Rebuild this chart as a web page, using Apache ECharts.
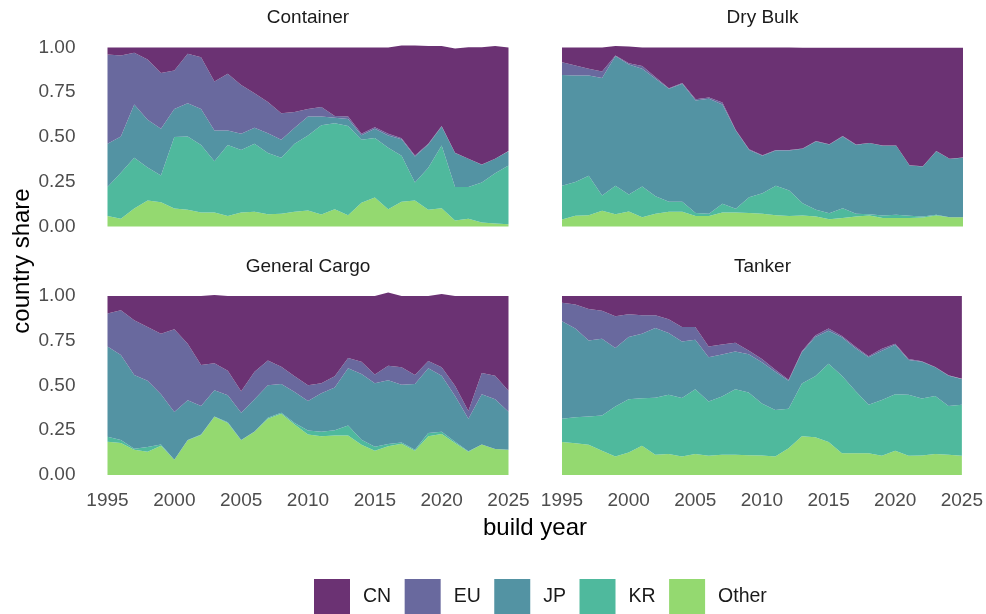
<!DOCTYPE html>
<html>
<head>
<meta charset="utf-8">
<title>country share by build year</title>
<script src="https://cdn.jsdelivr.net/npm/echarts@6/dist/echarts.min.js"></script>
<style>
  html, body { margin: 0; padding: 0; background: #ffffff; }
  #main { width: 986px; height: 614px; }
</style>
</head>
<body>
<div id="main"></div>
<script>
// build years (x axis)
const years = ['1995', '1996', '1997', '1998', '1999', '2000', '2001', '2002', '2003', '2004', '2005',
  '2006', '2007', '2008', '2009', '2010', '2011', '2012', '2013', '2014', '2015',
  '2016', '2017', '2018', '2019', '2020', '2021', '2022', '2023', '2024', '2025']

const countries = ['CN', 'EU', 'JP', 'KR', 'Other']
const yTicks = [0, 0.25, 0.5, 0.75, 1]

// Container
const containerOther = [0.058, 0.043, 0.10, 0.145, 0.136, 0.10, 0.093, 0.078, 0.078, 0.058, 0.078, 0.082, 0.069, 0.071, 0.082, 0.089, 0.067, 0.097, 0.063, 0.132, 0.162, 0.097, 0.138, 0.145, 0.093, 0.102, 0.034, 0.043, 0.022, 0.017, 0.013]
const containerKR = [0.162, 0.257, 0.284, 0.185, 0.149, 0.40, 0.41, 0.378, 0.287, 0.398, 0.35, 0.38, 0.341, 0.313, 0.38, 0.419, 0.499, 0.48, 0.499, 0.352, 0.333, 0.343, 0.257, 0.101, 0.235, 0.35, 0.186, 0.177, 0.224, 0.281, 0.328]
const containerJP = [0.242, 0.203, 0.298, 0.266, 0.261, 0.157, 0.186, 0.201, 0.171, 0.08, 0.09, 0.089, 0.111, 0.10, 0.089, 0.107, 0.049, 0.03, 0.038, 0.026, 0.051, 0.068, 0.093, 0.145, 0.13, 0.107, 0.19, 0.158, 0.099, 0.08, 0.08]
const containerEU = [0.499, 0.452, 0.288, 0.337, 0.312, 0.214, 0.276, 0.289, 0.274, 0.317, 0.273, 0.194, 0.174, 0.149, 0.088, 0.042, 0.052, 0.011, 0.015, 0.008, 0.009, 0.01, 0.005, 0.006, 0.004, 0.002, 0.002, 0.001, 0.001, 0.001, 0.001]
const containerCN = [0.039, 0.045, 0.03, 0.067, 0.142, 0.129, 0.035, 0.054, 0.19, 0.147, 0.209, 0.255, 0.305, 0.367, 0.361, 0.343, 0.333, 0.382, 0.385, 0.482, 0.445, 0.482, 0.518, 0.614, 0.547, 0.448, 0.583, 0.623, 0.656, 0.629, 0.578]

// Dry Bulk
const dryBulkOther = [0.039, 0.06, 0.063, 0.088, 0.069, 0.084, 0.052, 0.071, 0.082, 0.082, 0.058, 0.058, 0.078, 0.078, 0.076, 0.071, 0.063, 0.058, 0.061, 0.056, 0.041, 0.048, 0.056, 0.061, 0.047, 0.047, 0.047, 0.05, 0.061, 0.052, 0.052]
const dryBulkKR = [0.188, 0.188, 0.22, 0.085, 0.158, 0.095, 0.171, 0.098, 0.056, 0.056, 0.018, 0.013, 0.049, 0.021, 0.088, 0.115, 0.164, 0.143, 0.069, 0.037, 0.033, 0.054, 0.015, 0.008, 0.014, 0.018, 0.013, 0.006, 0.004, 0.0, 0.0]
const dryBulkJP = [0.62, 0.596, 0.561, 0.656, 0.725, 0.726, 0.658, 0.656, 0.631, 0.659, 0.628, 0.642, 0.555, 0.437, 0.264, 0.209, 0.198, 0.224, 0.304, 0.382, 0.384, 0.401, 0.385, 0.397, 0.39, 0.387, 0.281, 0.279, 0.356, 0.326, 0.332]
const dryBulkEU = [0.071, 0.055, 0.037, 0.037, 0.003, 0.007, 0.016, 0.009, 0.004, 0.004, 0.007, 0.008, 0.011, 0.003, 0.003, 0.003, 0.003, 0.003, 0.002, 0.002, 0.002, 0.002, 0.002, 0.001, 0.001, 0.001, 0.001, 0.001, 0.001, 0.001, 0.001]
const dryBulkCN = [0.082, 0.101, 0.119, 0.134, 0.054, 0.094, 0.103, 0.166, 0.227, 0.199, 0.289, 0.279, 0.307, 0.461, 0.569, 0.602, 0.572, 0.572, 0.563, 0.522, 0.539, 0.494, 0.541, 0.531, 0.546, 0.545, 0.656, 0.662, 0.576, 0.619, 0.613]

// General Cargo
const generalCargoOther = [0.186, 0.179, 0.141, 0.13, 0.164, 0.085, 0.194, 0.224, 0.325, 0.291, 0.194, 0.241, 0.314, 0.342, 0.282, 0.226, 0.216, 0.22, 0.22, 0.169, 0.135, 0.16, 0.175, 0.135, 0.216, 0.229, 0.179, 0.13, 0.171, 0.145, 0.141]
const generalCargoKR = [0.028, 0.016, 0.006, 0.026, 0.007, 0.0, 0.002, 0.002, 0.002, 0.004, 0.002, 0.002, 0.006, 0.006, 0.009, 0.022, 0.025, 0.03, 0.056, 0.028, 0.023, 0.013, 0.007, 0.006, 0.019, 0.012, 0.007, 0.002, 0.0, 0.0, 0.0]
const generalCargoJP = [0.504, 0.476, 0.411, 0.37, 0.28, 0.267, 0.221, 0.159, 0.147, 0.15, 0.152, 0.18, 0.182, 0.16, 0.173, 0.166, 0.216, 0.239, 0.32, 0.367, 0.355, 0.357, 0.322, 0.367, 0.361, 0.314, 0.256, 0.182, 0.28, 0.278, 0.212]
const generalCargoEU = [0.184, 0.25, 0.307, 0.301, 0.338, 0.462, 0.316, 0.23, 0.15, 0.138, 0.12, 0.154, 0.137, 0.097, 0.087, 0.088, 0.056, 0.062, 0.058, 0.069, 0.049, 0.081, 0.098, 0.05, 0.041, 0.047, 0.056, 0.043, 0.119, 0.132, 0.117]
const generalCargoCN = [0.098, 0.079, 0.135, 0.173, 0.211, 0.186, 0.267, 0.385, 0.381, 0.417, 0.532, 0.423, 0.361, 0.395, 0.449, 0.498, 0.487, 0.449, 0.346, 0.367, 0.438, 0.408, 0.398, 0.442, 0.363, 0.409, 0.502, 0.643, 0.43, 0.445, 0.53]

// Tanker
const tankerOther = [0.184, 0.177, 0.169, 0.135, 0.103, 0.126, 0.164, 0.113, 0.118, 0.103, 0.117, 0.107, 0.113, 0.113, 0.111, 0.109, 0.103, 0.15, 0.216, 0.211, 0.184, 0.122, 0.122, 0.122, 0.107, 0.135, 0.107, 0.109, 0.117, 0.113, 0.107]
const tankerKR = [0.13, 0.146, 0.158, 0.198, 0.279, 0.297, 0.265, 0.319, 0.331, 0.327, 0.362, 0.303, 0.325, 0.366, 0.35, 0.291, 0.26, 0.22, 0.295, 0.34, 0.438, 0.433, 0.348, 0.271, 0.312, 0.316, 0.342, 0.318, 0.325, 0.272, 0.286]
const tankerJP = [0.545, 0.495, 0.425, 0.428, 0.327, 0.348, 0.36, 0.389, 0.344, 0.316, 0.277, 0.248, 0.235, 0.211, 0.214, 0.23, 0.214, 0.156, 0.175, 0.22, 0.184, 0.214, 0.239, 0.265, 0.275, 0.276, 0.194, 0.206, 0.16, 0.17, 0.143]
const tankerEU = [0.103, 0.135, 0.175, 0.156, 0.178, 0.127, 0.104, 0.072, 0.077, 0.081, 0.071, 0.06, 0.056, 0.049, 0.02, 0.018, 0.011, 0.006, 0.006, 0.009, 0.012, 0.007, 0.009, 0.006, 0.011, 0.006, 0.005, 0.002, 0.002, 0.002, 0.002]
const tankerCN = [0.038, 0.047, 0.073, 0.083, 0.113, 0.102, 0.107, 0.107, 0.13, 0.173, 0.173, 0.282, 0.271, 0.261, 0.305, 0.352, 0.412, 0.468, 0.308, 0.22, 0.182, 0.224, 0.282, 0.336, 0.295, 0.267, 0.352, 0.365, 0.396, 0.443, 0.462]

const colors = {
  CN: '#6b3273',
  EU: '#69699e',
  JP: '#5393a3',
  KR: '#4fb99d',
  Other: '#94d970'
}

// panels, stacking order bottom -> top
const panels = [
  { title: 'Container', left: 107.5, top: 47.5, showY: true, showX: false,
    values: { Other: containerOther, KR: containerKR, JP: containerJP, EU: containerEU, CN: containerCN } },
  { title: 'Dry Bulk', left: 562, top: 47.5, showY: false, showX: false,
    values: { Other: dryBulkOther, KR: dryBulkKR, JP: dryBulkJP, EU: dryBulkEU, CN: dryBulkCN } },
  { title: 'General Cargo', left: 107.5, top: 296, showY: true, showX: true,
    values: { Other: generalCargoOther, KR: generalCargoKR, JP: generalCargoJP, EU: generalCargoEU, CN: generalCargoCN } },
  { title: 'Tanker', left: 562, top: 296, showY: false, showX: true,
    values: { Other: tankerOther, KR: tankerKR, JP: tankerJP, EU: tankerEU, CN: tankerCN } }
]

const panelW = 401
const panelH = 179
const fontFamily = '"Liberation Sans", Arial, Helvetica, sans-serif'

const grid = []
const xAxis = []
const yAxis = []
const series = []
const graphic = []

panels.forEach((p, i) => {
  grid.push({ left: p.left, top: p.top, width: panelW, height: panelH, containLabel: false })
  xAxis.push({
    type: 'category',
    gridIndex: i,
    data: years,
    boundaryGap: false,
    axisLine: { show: false },
    axisTick: { show: false },
    splitLine: { show: false },
    axisLabel: {
      show: p.showX,
      interval: 4,
      margin: 16,
      color: '#4d4d4d',
      fontSize: 19,
      fontFamily: fontFamily
    }
  })
  yAxis.push({
    type: 'value',
    gridIndex: i,
    min: yTicks[0],
    max: yTicks[yTicks.length - 1],
    interval: 0.25,
    axisLine: { show: false },
    axisTick: { show: false },
    splitLine: { show: false },
    axisLabel: {
      show: p.showY,
      margin: 32,
      color: '#4d4d4d',
      fontSize: 19,
      fontFamily: fontFamily,
      formatter: v => v.toFixed(2)
    }
  })
  ;['Other', 'KR', 'JP', 'EU', 'CN'].forEach(name => {
    series.push({
      name: name,
      type: 'line',
      xAxisIndex: i,
      yAxisIndex: i,
      stack: 'panel' + i,
      symbol: 'none',
      clip: false,
      silent: true,
      lineStyle: { width: 0 },
      itemStyle: { color: colors[name] },
      areaStyle: { color: colors[name], opacity: 1 },
      data: p.values[name]
    })
  })
  // facet strip label
  graphic.push({
    type: 'text',
    style: {
      text: p.title,
      x: p.left + panelW / 2,
      y: p.top - 29.5,
      align: 'center',
      verticalAlign: 'middle',
      fill: '#1a1a1a',
      fontSize: 19,
      fontFamily: fontFamily
    }
  })
})

graphic.push({
  type: 'text',
  style: {
    text: 'build year',
    x: 535,
    y: 528,
    align: 'center',
    verticalAlign: 'middle',
    fill: '#000000',
    fontSize: 24,
    fontFamily: fontFamily
  }
})
graphic.push({
  type: 'text',
  x: 22,
  y: 261,
  rotation: Math.PI / 2,
  style: {
    text: 'country share',
    x: 0,
    y: 0,
    align: 'center',
    verticalAlign: 'middle',
    fill: '#000000',
    fontSize: 24,
    fontFamily: fontFamily
  }
})

const chart = echarts.init(document.getElementById('main'), null, { renderer: 'canvas' })
chart.setOption({
  animation: false,
  backgroundColor: '#ffffff',
  grid: grid,
  xAxis: xAxis,
  yAxis: yAxis,
  legend: {
    data: countries,
    left: 314,
    top: 579,
    padding: 0,
    orient: 'horizontal',
    icon: 'rect',
    itemWidth: 36,
    itemHeight: 36,
    itemGap: 13.5,
    selectedMode: false,
    textStyle: {
      color: '#1a1a1a',
      fontSize: 19.5,
      fontFamily: fontFamily,
      padding: [0, 0, 0, 8]
    }
  },
  graphic: graphic,
  series: series
})
</script>
</body>
</html>
